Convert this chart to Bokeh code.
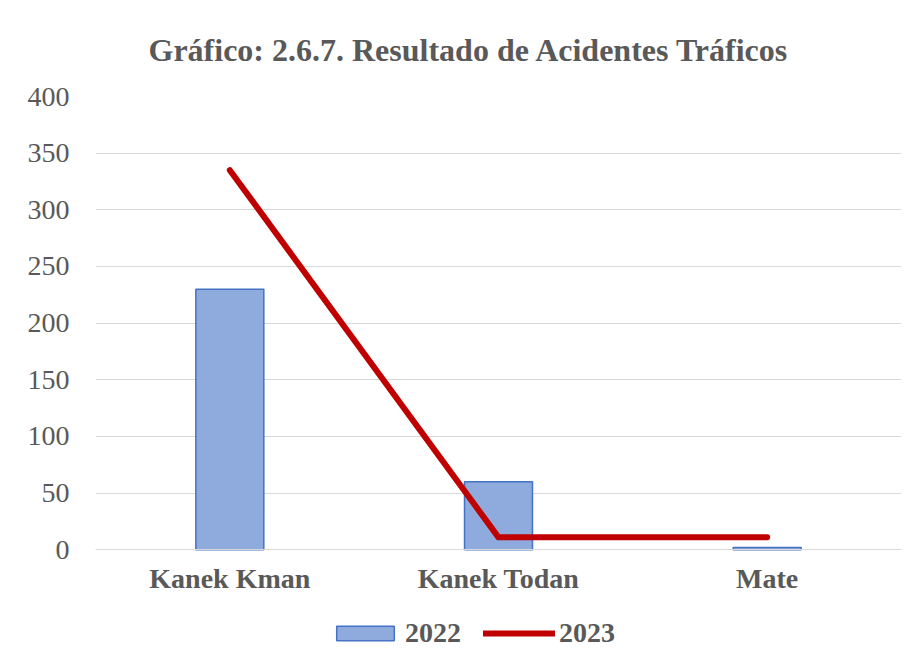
from bokeh.plotting import figure
from bokeh.models import Range1d, FactorRange, FixedTicker, Legend, LegendItem, Title, ColumnDataSource
from bokeh.embed import file_html
from bokeh.resources import INLINE

categories = ["Kanek Kman", "Kanek Todan", "Mate"]
values_2022 = [230, 60, 2]
values_2023 = [335, 11, 11]
y_ticks = [0, 50, 100, 150, 200, 250, 300, 350, 400]

title_text = "Gráfico: 2.6.7. Resultado de Acidentes Tráficos"
serif = "Liberation Serif"
grey = "#595959"

src = ColumnDataSource(dict(cat=categories, v22=values_2022, v23=values_2023))

# frame runs from the 400 line down to the bottom of the legend; the category
# axis is pinned at y = 0 inside it
p = figure(width=921, height=656, x_range=FactorRange(*categories), y_range=Range1d(-90.6, 400),
           output_backend="svg", toolbar_location=None,
           min_border_left=95, min_border_right=20, min_border_top=96, min_border_bottom=4)
p.outline_line_color = None
p.background_fill_color = "white"
p.border_fill_color = "white"

bars = p.vbar(x="cat", top="v22", width=0.253, source=src,
              fill_color="#8faadc", line_color="#4472c4", line_width=1.5)
line = p.line(x="cat", y="v23", source=src, line_color="#c00000", line_width=6,
              line_cap="round", line_join="round")

t = Title(text=title_text, align="left", offset=53, standoff=57,
          text_font=serif, text_font_size="32px", text_font_style="bold", text_color=grey)
p.add_layout(t, "above")
p.title.visible = False

p.yaxis.ticker = FixedTicker(ticks=y_ticks)
p.yaxis.axis_line_color = None
p.yaxis.major_tick_line_color = None
p.yaxis.minor_tick_line_color = None
p.yaxis.major_tick_out = 0
p.yaxis.major_label_standoff = 26
p.yaxis.major_label_text_font = serif
p.yaxis.major_label_text_font_size = "28px"
p.yaxis.major_label_text_color = grey

p.xaxis.fixed_location = 0
p.xaxis.axis_line_color = "#d9d9d9"
p.xaxis.major_tick_line_color = None
p.xaxis.minor_tick_line_color = None
p.xaxis.major_tick_out = 0
p.xaxis.major_label_standoff = 13
p.xaxis.major_label_text_font = serif
p.xaxis.major_label_text_font_size = "28px"
p.xaxis.major_label_text_font_style = "bold"
p.xaxis.major_label_text_color = grey

p.xgrid.grid_line_color = None
p.ygrid.grid_line_color = "#d9d9d9"
p.ygrid.grid_line_width = 1

legend = Legend(items=[LegendItem(label="2022", renderers=[bars]),
                       LegendItem(label="2023", renderers=[line])],
                orientation="horizontal", location=(234, 3),
                padding=0, margin=0, spacing=22, glyph_width=72, glyph_height=18,
                label_standoff=4, border_line_color=None, background_fill_alpha=0,
                label_text_font=serif, label_text_font_size="28px",
                label_text_font_style="bold", label_text_color=grey)
p.add_layout(legend, "center")

open("out.html", "w").write(file_html(p, INLINE))
